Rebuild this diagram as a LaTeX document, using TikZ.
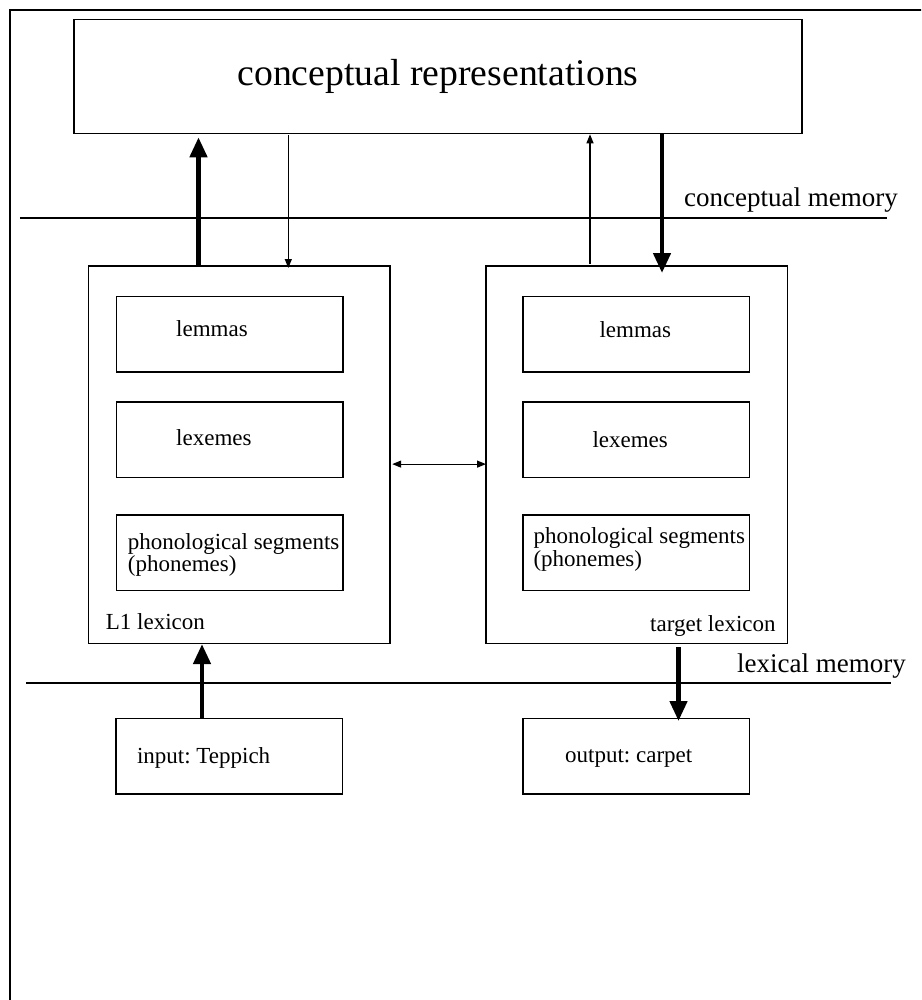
\documentclass[tikz,border=0pt]{standalone}
\usepackage{fontspec}
\setmainfont{Liberation Serif}
\frenchspacing
\usetikzlibrary{arrows.meta}
\begin{document}
\begin{tikzpicture}[x=1pt,y=-1pt,
  box/.style={draw, line width=1.5pt, inner sep=0pt, outer sep=0pt, anchor=north west},
  lexbox/.style={box, minimum width=301.5pt, minimum height=377.6pt},
  unitbox/.style={box, minimum width=226.5pt, minimum height=75.5pt},
  lbl/.style={font=\fontsize{23}{22.7}\selectfont, inner sep=0pt, anchor=base west, align=left},
  memlbl/.style={font=\fontsize{27}{30}\selectfont, inner sep=0pt, anchor=base west},
  heavy/.style={line width=4.5pt, -{Triangle[length=20pt,width=17pt]}},
  light/.style={line width=1.2pt, -{Triangle[length=9pt,width=7pt]}},
  both/.style={line width=1.2pt, {Triangle[length=9pt,width=7pt]}-{Triangle[length=9pt,width=7pt]}},
]
\useasboundingbox (0,0) rectangle (921,1000);
\clip (0,0) rectangle (921,1000);

% outer frame (open to the right and bottom)
\draw[line width=2.5pt] (10,1010) -- (10,10) -- (930,10);

% conceptual level
\node[box, minimum width=728pt, minimum height=114pt,
      font=\fontsize{37.7}{40}\selectfont] (conc) at (74,19.3) {conceptual representations};

% memory separators
\draw[line width=1.5pt] (20,218) -- (887,218);
\node[memlbl] (cmem) at (684,206.7) {conceptual memory};
\draw[line width=1.5pt] (26,683) -- (891,683);
\node[memlbl] (lmem) at (737,672) {lexical memory};

% L1 lexicon
\node[lexbox] (l1lex) at (88.7,266) {};
\node[unitbox] (l1lem) at (116.7,296.7) {};
\node[unitbox] (l1lxm) at (116.7,402) {};
\node[unitbox] (l1pho) at (116.7,515) {};
\node[lbl] (l1lemt) at (176,336) {lemmas};
\node[lbl] (l1lxmt) at (176,445) {lexemes};
% base anchor of a two-line label sits on its last line
\node[lbl] (l1phot) at (127.7,571.7) {phonological segments\\(phonemes)};
\node[lbl] (l1name) at (105.7,629) {L1 lexicon};

% target lexicon
\node[lexbox] (tlex) at (486,266) {};
\node[unitbox] (tlem) at (523,296.7) {};
\node[unitbox] (tlxm) at (523,402) {};
\node[unitbox] (tpho) at (523,515) {};
\node[lbl] (tlemt) at (599.3,337) {lemmas};
\node[lbl] (tlxmt) at (592.3,447) {lexemes};
\node[lbl] (tphot) at (533.3,566) {phonological segments\\(phonemes)};
\node[lbl] (tname) at (650,631) {target lexicon};

% input / output
\node[unitbox] (in) at (116,718.7) {};
\node[lbl] (intext) at (136.8,763) {input: Teppich};
\node[unitbox] (out) at (523,718.7) {};
\node[lbl] (outtext) at (565,762) {output: carpet};

% links between the lexicons and the conceptual level
\coordinate (a1) at ([xshift=109.8pt]l1lex.north west);
\draw[heavy, shorten >=4pt] (a1) -- (a1 |- conc.south);
\coordinate (a2) at ([xshift=199.6pt]l1lex.north west);
\draw[light, shorten <=2pt, shorten >=-2pt] (a2 |- conc.south) -- (a2);
\coordinate (a3) at ([xshift=104pt]tlex.north west);
\draw[light, shorten <=2pt, shorten >=1pt] (a3) -- (a3 |- conc.south);
\coordinate (a4) at ([xshift=176pt]tlex.north west);
\draw[heavy, shorten <=1pt, shorten >=-7pt] (a4 |- conc.south) -- (a4);

% link between the two lexicons
\coordinate (b1) at ([yshift=-9.3pt]l1lex.east);
\draw[both, shorten <=2pt] (b1) -- (b1 -| tlex.west);

% input and output links
\coordinate (a5) at ([xshift=86pt]in.north west);
\draw[heavy, shorten >=0.5pt] (a5) -- (a5 |- l1lex.south);
\coordinate (a6) at ([xshift=155.5pt]out.north west);
\draw[heavy, shorten <=3.5pt, shorten >=-2.3pt] (a6 |- tlex.south) -- (a6);
\end{tikzpicture}
\end{document}
